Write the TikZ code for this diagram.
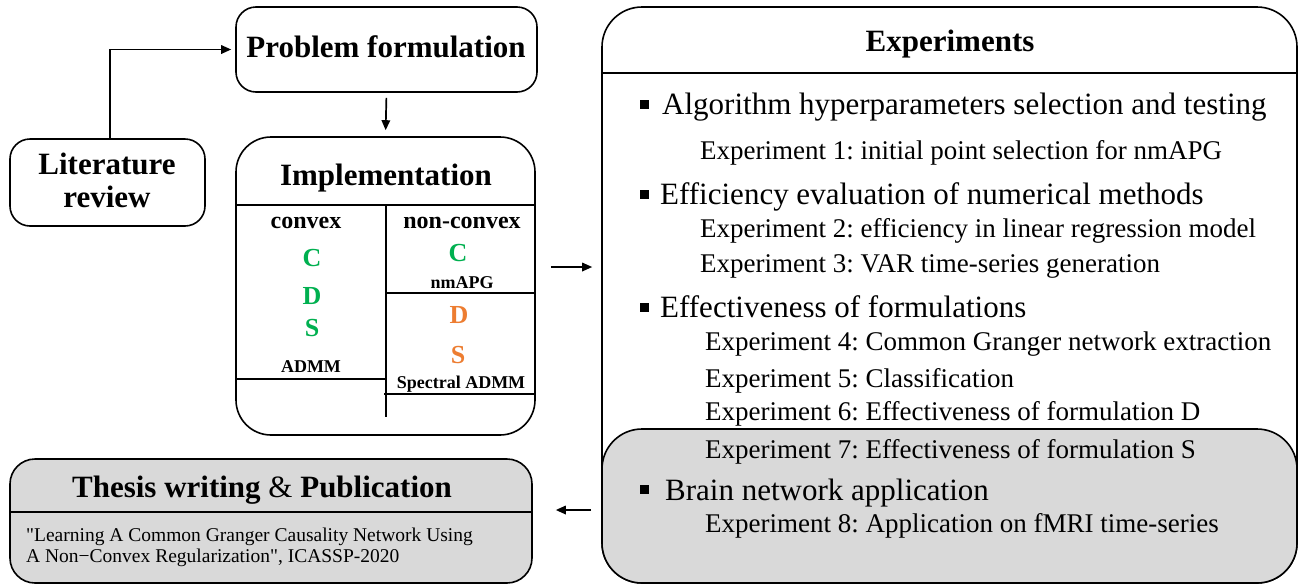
\documentclass[tikz,border=0pt]{standalone}
\usepackage{fontspec}
\setmainfont{Liberation Serif}
\newfontfamily\citefont{Liberation Serif}[Ligatures=TeXOff]
\usetikzlibrary{arrows.meta}
\definecolor{cgreen}{HTML}{00B050}
\definecolor{corange}{HTML}{ED7D31}
\definecolor{panelgray}{HTML}{D9D9D9}
\newcommand{\fsz}[1]{\fontsize{#1}{#1}\selectfont}
\frenchspacing
\tikzset{
  box/.style={draw, line width=1.6pt, inner sep=0pt, fill=white},
  rule/.style={line width=1.6pt},
  thin rule/.style={line width=1.2pt},
  arr/.style={line width=1.7pt, -{Triangle[length=10pt,width=8.5pt]}},
  txt/.style={inner sep=0pt, anchor=base},
  ltxt/.style={inner sep=0pt, anchor=base west},
  bullet/.style={fill=black, inner sep=0pt, minimum size=9pt},
  head/.style={txt, font=\fsz{31}\bfseries},
  sub/.style={ltxt, font=\fsz{27}},
  topic/.style={ltxt, font=\fsz{31}},
  impl col/.style={txt, font=\fsz{24}\bfseries},
  letter/.style={txt, font=\fsz{26}\bfseries},
  method/.style={txt, font=\fsz{18}\bfseries},
  cite/.style={ltxt, font=\citefont\fsz{19.5}},
}
\begin{document}
\begin{tikzpicture}[x=1pt,y=-1pt]
\useasboundingbox (0,0) rectangle (1308,587);

% boxes
\node[box, rounded corners=20pt, minimum width=301pt, minimum height=85pt] (prob) at (386.5,49.5) {};
\node[box, rounded corners=20pt, minimum width=195pt, minimum height=87pt] (lit) at (107.5,182.5) {};
\node[box, rounded corners=35pt, minimum width=299pt, minimum height=298pt] (impl) at (385.5,286) {};
\node[box, rounded corners=40pt, minimum width=695pt, minimum height=576pt] (exp) at (949.5,295) {};
\node[box, rounded corners=40pt, minimum width=695pt, minimum height=154pt, fill=panelgray] (app) at (949.5,506) {};
\node[box, rounded corners=25pt, minimum width=522pt, minimum height=124pt, fill=panelgray] (thesis) at (271,521) {};

% inner rules
\draw[rule] (exp.west |- 0,73) -- (exp.east |- 0,73);
\draw[rule] (impl.west |- 0,205) -- (impl.east |- 0,205);
\draw[thin rule] (386,205) -- (386,417);
\draw[thin rule] (impl.west |- 0,379) -- (386,379);
\draw[thin rule] (386,293) -- (impl.east |- 0,293);
\draw[thin rule] (384,394) -- (impl.east |- 0,394);
\draw[rule] (thesis.west |- 0,512) -- (thesis.east |- 0,512);

% titles
\node[head] (probt) at (386,57) {Problem formulation};
\node[head] (litt1) at (107,174) {Literature};
\node[head] (litt2) at (107,207) {review};
\node[head] (implt) at (386,185) {Implementation};
\node[head] (expt) at (950,51) {Experiments};
\node[head] (thesist) at (262,497) {Thesis writing \mdseries\&\bfseries{} Publication};

% implementation contents
\node[impl col] (cvx) at (306,228) {convex};
\node[impl col] (ncvx) at (462,228) {non-convex};
\node[letter, text=cgreen] (cC) at (312,266) {C};
\node[letter, text=cgreen] (cD) at (312,304) {D};
\node[letter, text=cgreen] (cS) at (312,336) {S};
\node[method] (admm) at (311,372) {ADMM};
\node[letter, text=cgreen] (nC) at (458,261) {C};
\node[method] (nmapg) at (462,288) {nmAPG};
\node[letter, text=corange] (nD) at (459,323) {D};
\node[letter, text=corange] (nS) at (458,363) {S};
\node[method] (sadmm) at (461,388) {Spectral ADMM};

% experiment list
\node[bullet] (b1) at (644,104) {};
\node[topic] (t1) at (662,114) {Algorithm hyperparameters selection and testing};
\node[sub] (e1) at (700,159) {Experiment 1: initial point selection for nmAPG};
\node[bullet] (b2) at (644,194) {};
\node[topic] (t2) at (660,204) {Efficiency evaluation of numerical methods};
\node[sub] (e2) at (700,237) {Experiment 2: efficiency in linear regression model};
\node[sub] (e3) at (700,272) {Experiment 3: VAR time-series generation};
\node[bullet] (b3) at (644,307) {};
\node[topic] (t3) at (660,317) {Effectiveness of formulations};
\node[sub] (e4) at (705,350) {Experiment 4: Common Granger network extraction};
\node[sub] (e5) at (705,387) {Experiment 5: Classification};
\node[sub] (e6) at (705,420) {Experiment 6: Effectiveness of formulation D};
\node[sub] (e7) at (705,458) {Experiment 7: Effectiveness of formulation S};
\node[bullet] (b4) at (644,489) {};
\node[topic] (t4) at (665,500) {Brain network application};
\node[sub] (e8) at (705,532) {Experiment 8: Application on fMRI time-series};

% publication
\node[cite] (pub1) at (26,541) {"Learning A Common Granger Causality Network Using};
\node[cite] (pub2) at (26,562) {A Non−Convex Regularization", ICASSP-2020};

% connectors
\draw[arr, shorten >=4pt] (lit.north -| 110,0) |- (prob.west);
\draw[arr, shorten <=5pt, shorten >=6pt] (prob.south) -- (impl.north);
\draw[arr, shorten <=15pt, shorten >=9pt] ([yshift=19pt]impl.east) -- ([yshift=19pt]impl.east -| exp.west);
\draw[arr, shorten <=10pt, shorten >=23pt] ([yshift=11pt]thesis.east -| exp.west) -- ([yshift=11pt]thesis.east);
\end{tikzpicture}
\end{document}
